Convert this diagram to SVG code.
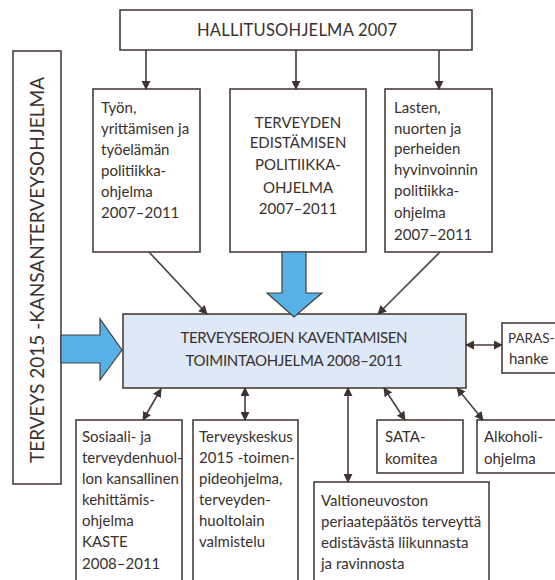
<svg xmlns="http://www.w3.org/2000/svg" width="555" height="580" viewBox="0 0 555 580">
<style>
.box{fill:#fff;stroke:#4a3e3a;stroke-width:1.6}
.main{fill:#dde9f6;stroke:#4a3e3a;stroke-width:1.6}
.t{font-family:Lato,"Open Sans",sans-serif;font-size:15px;fill:#3a302e}
.c{text-anchor:middle}
.up{font-size:16.5px}
.ln{stroke:#4a3e3a;stroke-width:1.6;fill:none}
.blue{fill:#56b2e6;stroke:#4a3e3a;stroke-width:1.2}
</style>
<defs>
<marker id="ah" viewBox="0 0 10 10" refX="9" refY="5" markerWidth="9" markerHeight="9" markerUnits="userSpaceOnUse" orient="auto-start-reverse">
<path d="M0,0 L10,5 L0,10 Z" fill="#3f3431"/>
</marker>
</defs>

<g id="hallitus">
<rect class="box" x="120" y="10" width="352" height="40"/>
<text class="t up c" x="297" y="36" textLength="200">HALLITUSOHJELMA 2007</text>
</g>

<g id="kansanterveys">
<rect class="box" x="13" y="51" width="48" height="433"/>
<text class="t c" style="font-size:19.5px" transform="translate(44,270) rotate(-90)" textLength="386" lengthAdjust="spacingAndGlyphs">TERVEYS 2015 -KANSANTERVEYSOHJELMA</text>
</g>

<g id="tyon">
<rect class="box" x="93" y="89" width="107" height="163"/>
<text class="t" x="101" y="113">Työn,</text>
<text class="t" x="101" y="134">yrittämisen ja</text>
<text class="t" x="101" y="155">työelämän</text>
<text class="t" x="101" y="176">politiikka-</text>
<text class="t" x="101" y="197">ohjelma</text>
<text class="t" x="101" y="218">2007–2011</text>
</g>

<g id="terveyden">
<rect class="box" x="230" y="89" width="136" height="163"/>
<text class="t c" x="298" y="128">TERVEYDEN</text>
<text class="t c" x="298" y="148">EDISTÄMISEN</text>
<text class="t c" x="298" y="170">POLITIIKKA-</text>
<text class="t c" x="298" y="193">OHJELMA</text>
<text class="t c" x="298" y="214">2007–2011</text>
</g>

<g id="lasten">
<rect class="box" x="385" y="89" width="107" height="163"/>
<text class="t" x="394" y="113">Lasten,</text>
<text class="t" x="394" y="134">nuorten ja</text>
<text class="t" x="394" y="154">perheiden</text>
<text class="t" x="394" y="175">hyvinvoinnin</text>
<text class="t" x="394" y="196">politiikka-</text>
<text class="t" x="394" y="218">ohjelma</text>
<text class="t" x="394" y="240">2007–2011</text>
</g>

<g id="toimintaohjelma">
<rect class="main" x="123" y="314" width="343" height="74"/>
<text class="t c" x="294" y="343" textLength="227">TERVEYSEROJEN KAVENTAMISEN</text>
<text class="t c" x="294" y="366" textLength="217">TOIMINTAOHJELMA 2008–2011</text>
</g>

<g id="paras">
<rect class="box" x="502" y="323" width="70" height="50"/>
<text class="t" style="font-size:13.5px" x="508" y="343">PARAS-</text>
<text class="t" x="509" y="364">hanke</text>
</g>

<g id="sata">
<rect class="box" x="377" y="420" width="86" height="53"/>
<text class="t" x="385" y="442">SATA-</text>
<text class="t" x="385" y="464">komitea</text>
</g>

<g id="alkoholi">
<rect class="box" x="477" y="420" width="95" height="53"/>
<text class="t" x="484" y="442">Alkoholi-</text>
<text class="t" x="484" y="464">ohjelma</text>
</g>

<g id="sosiaali">
<rect class="box" x="76" y="420" width="106" height="170"/>
<text class="t" x="82" y="442">Sosiaali- ja</text>
<text class="t" x="82" y="463">terveydenhuol-</text>
<text class="t" x="82" y="484">lon kansallinen</text>
<text class="t" x="82" y="505">kehittämis-</text>
<text class="t" x="82" y="526">ohjelma</text>
<text class="t" x="82" y="547">KASTE</text>
<text class="t" x="82" y="569">2008–2011</text>
</g>

<g id="terveyskeskus">
<rect class="box" x="193" y="420" width="105" height="170"/>
<text class="t" x="199" y="442">Terveyskeskus</text>
<text class="t" x="199" y="463">2015 -toimen-</text>
<text class="t" x="199" y="484">pideohjelma,</text>
<text class="t" x="199" y="505">terveyden-</text>
<text class="t" x="199" y="526">huoltolain</text>
<text class="t" x="199" y="547">valmistelu</text>
</g>

<g id="valtioneuvosto">
<rect class="box" x="314" y="482" width="175" height="110"/>
<text class="t" x="321" y="506">Valtioneuvoston</text>
<text class="t" x="321" y="527">periaatepäätös terveyttä</text>
<text class="t" x="321" y="548">edistävästä liikunnasta</text>
<text class="t" x="321" y="569">ja ravinnosta</text>
</g>

<g id="connectors">
<line class="ln" x1="146" y1="50" x2="146" y2="89" marker-end="url(#ah)"/>
<line class="ln" x1="296" y1="50" x2="296" y2="89" marker-end="url(#ah)"/>
<line class="ln" x1="439" y1="50" x2="439" y2="89" marker-end="url(#ah)"/>
<line class="ln" x1="149" y1="252" x2="207" y2="314" marker-end="url(#ah)"/>
<line class="ln" x1="440" y1="252" x2="378" y2="314" marker-end="url(#ah)"/>
<path class="blue" d="M282,252 L306,252 L306,293 L322,293 L294,317 L267,293 L282,293 Z"/>
<path class="blue" d="M61,335 L100,335 L100,319 L122,350 L100,380 L100,363 L61,363 Z"/>
<line class="ln" x1="466" y1="345" x2="502" y2="345" marker-start="url(#ah)" marker-end="url(#ah)"/>
<line class="ln" x1="161" y1="389" x2="143" y2="420" marker-start="url(#ah)" marker-end="url(#ah)"/>
<line class="ln" x1="245" y1="388" x2="245" y2="420" marker-start="url(#ah)" marker-end="url(#ah)"/>
<line class="ln" x1="348" y1="388" x2="348" y2="482" marker-start="url(#ah)" marker-end="url(#ah)"/>
<line class="ln" x1="384" y1="388" x2="405" y2="420" marker-start="url(#ah)" marker-end="url(#ah)"/>
<line class="ln" x1="457" y1="388" x2="483" y2="420" marker-start="url(#ah)" marker-end="url(#ah)"/>
</g>
</svg>
